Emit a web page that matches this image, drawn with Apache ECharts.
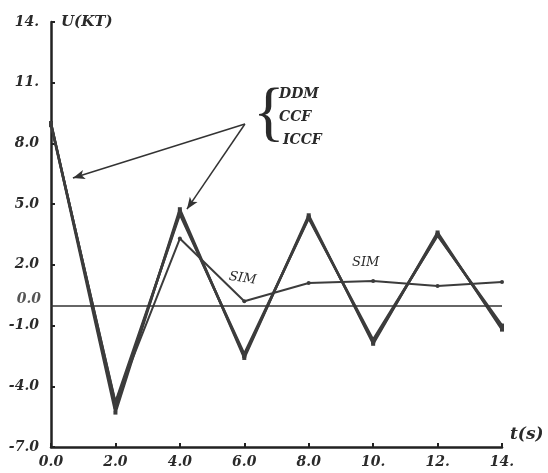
<!DOCTYPE html>
<html>
<head>
<meta charset="utf-8">
<script src="https://cdn.jsdelivr.net/npm/echarts@6/dist/echarts.min.js"></script>
<style>html,body{margin:0;padding:0;background:#fff}#c{width:548px;height:473px}</style>
</head>
<body>
<div id="c"></div>
<script>
var times = [0, 2, 4, 6, 8, 10, 12, 14];
var ddm  = [9.0, -5.3, 4.75, -2.6, 4.45, -1.9, 3.6, -1.2];
var ccf  = [9.0, -5.0, 4.6, -2.5, 4.35, -1.8, 3.5, -1.1];
var iccf = [8.9, -4.8, 4.5, -2.4, 4.3, -1.7, 3.45, -1.0];
var sim  = [9.0, -4.8, 3.3, 0.2, 1.1, 1.2, 0.95, 1.15];
var xTickLabels = {0:'0.0',2:'2.0',4:'4.0',6:'6.0',8:'8.0',10:'10.',12:'12.',14:'14.'};
var yTickLabels = {'-7':'-7.0','-4':'-4.0','-1':'-1.0',2:'2.0',5:'5.0',8:'8.0',11:'11.',14:'14.'};
var legendNames = ['DDM', 'CCF', 'ICCF'];

function pairs(v){ return times.map(function(t,i){ return [t, v[i]]; }); }
var FONT = 'DejaVu Serif';
var INK = '#2a2a2a';
var LINE = '#3c3c3c';
var lblStyle = {fontFamily: FONT, fontStyle: 'italic', fontWeight: 'bold', fontSize: 14, color: INK};

var chart = echarts.init(document.getElementById('c'), null, {renderer: 'canvas'});
function thick(name, data, w){
  return {name: name, type: 'line', data: pairs(data), symbol: 'rect', symbolSize: 4,
    lineStyle: {color: LINE, width: w}, itemStyle: {color: LINE}, z: 3};
}
chart.setOption({
  animation: false,
  backgroundColor: '#fff',
  grid: {left: 51, right: 46, top: 22, bottom: 26, containLabel: false},
  xAxis: {
    type: 'value', min: 0, max: 14, interval: 2,
    name: 't(s)', nameLocation: 'end', nameGap: 8,
    nameTextStyle: {fontFamily: FONT, fontStyle: 'italic', fontWeight: 'bold', fontSize: 17, color: INK, verticalAlign: 'bottom', padding: [0,0,4,0]},
    axisLine: {onZero: false, lineStyle: {color: '#222', width: 2.5}},
    axisTick: {inside: true, length: 4, lineStyle: {color: '#222', width: 2}},
    axisLabel: Object.assign({margin: 8, formatter: function(v){ return xTickLabels[v] || ''; }}, lblStyle),
    splitLine: {show: false}
  },
  yAxis: {
    type: 'value', min: -7, max: 14, interval: 3,
    name: 'U(KT)', nameLocation: 'end', nameGap: 0,
    nameTextStyle: {fontFamily: FONT, fontStyle: 'italic', fontWeight: 'bold', fontSize: 15, color: INK, align: 'left', verticalAlign: 'middle', padding: [0,0,0,10]},
    axisLine: {onZero: false, lineStyle: {color: '#222', width: 2.5}},
    axisTick: {inside: true, length: 4, lineStyle: {color: '#222', width: 2}},
    axisLabel: Object.assign({margin: 12, formatter: function(v){ return yTickLabels[v] || ''; }}, lblStyle),
    splitLine: {show: false}
  },
  series: [
    thick(legendNames[0], ddm, 2.5),
    thick(legendNames[1], ccf, 2.5),
    thick(legendNames[2], iccf, 2.5),
    {
      name: 'SIM', type: 'line', data: pairs(sim), symbol: 'circle', symbolSize: 4,
      lineStyle: {color: LINE, width: 2}, itemStyle: {color: LINE}, z: 4,
      markLine: {
        silent: true, animation: false,
        data: [
          [{coord: [0, 0], symbol: 'none', lineStyle: {color: '#333', width: 1.5, type: 'solid'},
            label: {show: true, position: 'start', formatter: '0.0', distance: 10, offset: [0, -6], fontFamily: FONT, fontStyle: 'italic', fontWeight: 'bold', fontSize: 14, color: '#555'}},
           {coord: [14, 0], symbol: 'none'}],
          [{coord: [6.02, 8.96], symbol: 'none', lineStyle: {color: '#333', width: 1.5, type: 'solid'}, label: {show: false}},
           {coord: [0.68, 6.29], symbol: 'arrow', symbolSize: [7, 12]}],
          [{coord: [6.02, 8.96], symbol: 'none', lineStyle: {color: '#333', width: 1.5, type: 'solid'}, label: {show: false}},
           {coord: [4.22, 4.75], symbol: 'arrow', symbolSize: [7, 12]}]
        ]
      }
    }
  ],
  graphic: [
    {type: 'text', left: 253, top: 83, style: {text: '{', fontFamily: 'Liberation Serif', fontSize: 66, fill: INK}},
    {type: 'text', left: 279, top: 87, style: {text: legendNames[0], fontFamily: FONT, fontStyle: 'italic', fontWeight: 'bold', fontSize: 14, fill: INK}},
    {type: 'text', left: 279, top: 110, style: {text: legendNames[1], fontFamily: FONT, fontStyle: 'italic', fontWeight: 'bold', fontSize: 14, fill: INK}},
    {type: 'text', left: 283, top: 133, style: {text: legendNames[2], fontFamily: FONT, fontStyle: 'italic', fontWeight: 'bold', fontSize: 14, fill: INK}},
    {type: 'text', x: 230, y: 270, rotation: -0.15, style: {text: 'SIM', fontFamily: FONT, fontStyle: 'italic', fontSize: 13, fill: INK}},
    {type: 'text', left: 352, top: 256, style: {text: 'SIM', fontFamily: FONT, fontStyle: 'italic', fontSize: 13, fill: INK}}
  ]
});
</script>
</body>
</html>
